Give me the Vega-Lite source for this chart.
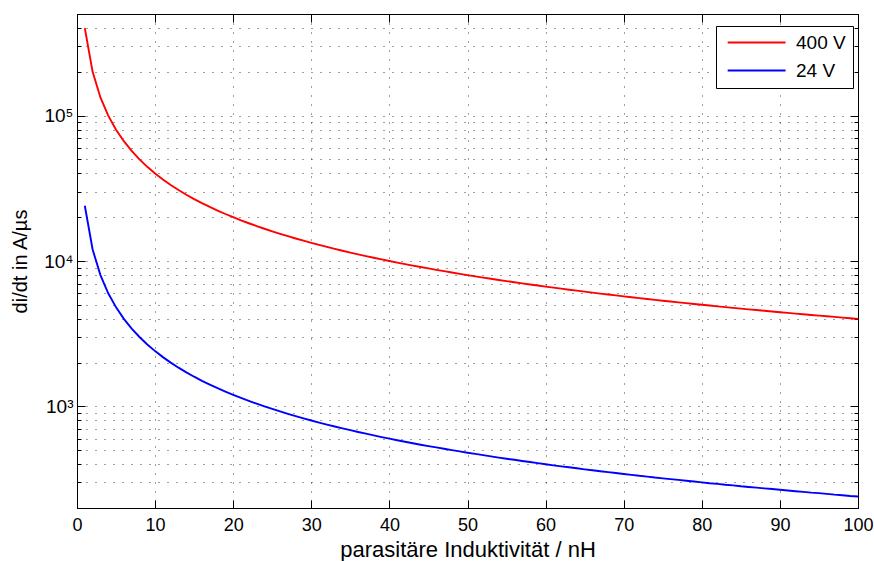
{
  "$schema": "https://vega.github.io/schema/vega-lite/v6.json",
  "width": 781,
  "height": 494,
  "autosize": {"type": "none"},
  "padding": {"left": 77, "top": 14, "right": 16, "bottom": 53},
  "background": "white",
  "config": {
    "view": {"stroke": "black", "strokeWidth": 1},
    "font": "Liberation Sans, Arial, Helvetica, sans-serif",
    "axis": {
      "domainColor": "black",
      "domainWidth": 1,
      "tickColor": "black",
      "tickWidth": 1,
      "labelColor": "black",
      "labelFont": "Liberation Sans, Arial, Helvetica, sans-serif",
      "labelFontSize": 18,
      "titleFont": "Liberation Sans, Arial, Helvetica, sans-serif",
      "titleFontSize": 22,
      "titleFontWeight": "normal",
      "titleColor": "black",
      "gridColor": "#111111",
      "gridWidth": 1,
      "gridDash": [1, 8],
      "gridOpacity": 0.8
    }
  },
  "data": {"values": [
    {"L":1,"s":"400 V","v":400000},{"L":2,"s":"400 V","v":200000},{"L":3,"s":"400 V","v":133333},{"L":4,"s":"400 V","v":100000},{"L":5,"s":"400 V","v":80000},
    {"L":6,"s":"400 V","v":66667},{"L":7,"s":"400 V","v":57143},{"L":8,"s":"400 V","v":50000},{"L":9,"s":"400 V","v":44444},{"L":10,"s":"400 V","v":40000},
    {"L":11,"s":"400 V","v":36364},{"L":12,"s":"400 V","v":33333},{"L":13,"s":"400 V","v":30769},{"L":14,"s":"400 V","v":28571},{"L":15,"s":"400 V","v":26667},
    {"L":16,"s":"400 V","v":25000},{"L":17,"s":"400 V","v":23529},{"L":18,"s":"400 V","v":22222},{"L":19,"s":"400 V","v":21053},{"L":20,"s":"400 V","v":20000},
    {"L":21,"s":"400 V","v":19048},{"L":22,"s":"400 V","v":18182},{"L":23,"s":"400 V","v":17391},{"L":24,"s":"400 V","v":16667},{"L":25,"s":"400 V","v":16000},
    {"L":26,"s":"400 V","v":15385},{"L":27,"s":"400 V","v":14815},{"L":28,"s":"400 V","v":14286},{"L":29,"s":"400 V","v":13793},{"L":30,"s":"400 V","v":13333},
    {"L":31,"s":"400 V","v":12903},{"L":32,"s":"400 V","v":12500},{"L":33,"s":"400 V","v":12121},{"L":34,"s":"400 V","v":11765},{"L":35,"s":"400 V","v":11429},
    {"L":36,"s":"400 V","v":11111},{"L":37,"s":"400 V","v":10811},{"L":38,"s":"400 V","v":10526},{"L":39,"s":"400 V","v":10256},{"L":40,"s":"400 V","v":10000},
    {"L":41,"s":"400 V","v":9756},{"L":42,"s":"400 V","v":9524},{"L":43,"s":"400 V","v":9302},{"L":44,"s":"400 V","v":9091},{"L":45,"s":"400 V","v":8889},
    {"L":46,"s":"400 V","v":8696},{"L":47,"s":"400 V","v":8511},{"L":48,"s":"400 V","v":8333},{"L":49,"s":"400 V","v":8163},{"L":50,"s":"400 V","v":8000},
    {"L":51,"s":"400 V","v":7843},{"L":52,"s":"400 V","v":7692},{"L":53,"s":"400 V","v":7547},{"L":54,"s":"400 V","v":7407},{"L":55,"s":"400 V","v":7273},
    {"L":56,"s":"400 V","v":7143},{"L":57,"s":"400 V","v":7018},{"L":58,"s":"400 V","v":6897},{"L":59,"s":"400 V","v":6780},{"L":60,"s":"400 V","v":6667},
    {"L":61,"s":"400 V","v":6557},{"L":62,"s":"400 V","v":6452},{"L":63,"s":"400 V","v":6349},{"L":64,"s":"400 V","v":6250},{"L":65,"s":"400 V","v":6154},
    {"L":66,"s":"400 V","v":6061},{"L":67,"s":"400 V","v":5970},{"L":68,"s":"400 V","v":5882},{"L":69,"s":"400 V","v":5797},{"L":70,"s":"400 V","v":5714},
    {"L":71,"s":"400 V","v":5634},{"L":72,"s":"400 V","v":5556},{"L":73,"s":"400 V","v":5479},{"L":74,"s":"400 V","v":5405},{"L":75,"s":"400 V","v":5333},
    {"L":76,"s":"400 V","v":5263},{"L":77,"s":"400 V","v":5195},{"L":78,"s":"400 V","v":5128},{"L":79,"s":"400 V","v":5063},{"L":80,"s":"400 V","v":5000},
    {"L":81,"s":"400 V","v":4938},{"L":82,"s":"400 V","v":4878},{"L":83,"s":"400 V","v":4819},{"L":84,"s":"400 V","v":4762},{"L":85,"s":"400 V","v":4706},
    {"L":86,"s":"400 V","v":4651},{"L":87,"s":"400 V","v":4598},{"L":88,"s":"400 V","v":4545},{"L":89,"s":"400 V","v":4494},{"L":90,"s":"400 V","v":4444},
    {"L":91,"s":"400 V","v":4396},{"L":92,"s":"400 V","v":4348},{"L":93,"s":"400 V","v":4301},{"L":94,"s":"400 V","v":4255},{"L":95,"s":"400 V","v":4211},
    {"L":96,"s":"400 V","v":4167},{"L":97,"s":"400 V","v":4124},{"L":98,"s":"400 V","v":4082},{"L":99,"s":"400 V","v":4040},{"L":100,"s":"400 V","v":4000},
    {"L":1,"s":"24 V","v":24000},{"L":2,"s":"24 V","v":12000},{"L":3,"s":"24 V","v":8000},{"L":4,"s":"24 V","v":6000},{"L":5,"s":"24 V","v":4800},
    {"L":6,"s":"24 V","v":4000},{"L":7,"s":"24 V","v":3429},{"L":8,"s":"24 V","v":3000},{"L":9,"s":"24 V","v":2667},{"L":10,"s":"24 V","v":2400},
    {"L":11,"s":"24 V","v":2182},{"L":12,"s":"24 V","v":2000},{"L":13,"s":"24 V","v":1846},{"L":14,"s":"24 V","v":1714},{"L":15,"s":"24 V","v":1600},
    {"L":16,"s":"24 V","v":1500},{"L":17,"s":"24 V","v":1412},{"L":18,"s":"24 V","v":1333},{"L":19,"s":"24 V","v":1263},{"L":20,"s":"24 V","v":1200},
    {"L":21,"s":"24 V","v":1143},{"L":22,"s":"24 V","v":1091},{"L":23,"s":"24 V","v":1043},{"L":24,"s":"24 V","v":1000},{"L":25,"s":"24 V","v":960},
    {"L":26,"s":"24 V","v":923},{"L":27,"s":"24 V","v":889},{"L":28,"s":"24 V","v":857},{"L":29,"s":"24 V","v":828},{"L":30,"s":"24 V","v":800},
    {"L":31,"s":"24 V","v":774},{"L":32,"s":"24 V","v":750},{"L":33,"s":"24 V","v":727},{"L":34,"s":"24 V","v":706},{"L":35,"s":"24 V","v":686},
    {"L":36,"s":"24 V","v":667},{"L":37,"s":"24 V","v":649},{"L":38,"s":"24 V","v":632},{"L":39,"s":"24 V","v":615},{"L":40,"s":"24 V","v":600},
    {"L":41,"s":"24 V","v":585},{"L":42,"s":"24 V","v":571},{"L":43,"s":"24 V","v":558},{"L":44,"s":"24 V","v":545},{"L":45,"s":"24 V","v":533},
    {"L":46,"s":"24 V","v":522},{"L":47,"s":"24 V","v":511},{"L":48,"s":"24 V","v":500},{"L":49,"s":"24 V","v":490},{"L":50,"s":"24 V","v":480},
    {"L":51,"s":"24 V","v":471},{"L":52,"s":"24 V","v":462},{"L":53,"s":"24 V","v":453},{"L":54,"s":"24 V","v":444},{"L":55,"s":"24 V","v":436},
    {"L":56,"s":"24 V","v":429},{"L":57,"s":"24 V","v":421},{"L":58,"s":"24 V","v":414},{"L":59,"s":"24 V","v":407},{"L":60,"s":"24 V","v":400},
    {"L":61,"s":"24 V","v":393},{"L":62,"s":"24 V","v":387},{"L":63,"s":"24 V","v":381},{"L":64,"s":"24 V","v":375},{"L":65,"s":"24 V","v":369},
    {"L":66,"s":"24 V","v":364},{"L":67,"s":"24 V","v":358},{"L":68,"s":"24 V","v":353},{"L":69,"s":"24 V","v":348},{"L":70,"s":"24 V","v":343},
    {"L":71,"s":"24 V","v":338},{"L":72,"s":"24 V","v":333},{"L":73,"s":"24 V","v":329},{"L":74,"s":"24 V","v":324},{"L":75,"s":"24 V","v":320},
    {"L":76,"s":"24 V","v":316},{"L":77,"s":"24 V","v":312},{"L":78,"s":"24 V","v":308},{"L":79,"s":"24 V","v":304},{"L":80,"s":"24 V","v":300},
    {"L":81,"s":"24 V","v":296},{"L":82,"s":"24 V","v":293},{"L":83,"s":"24 V","v":289},{"L":84,"s":"24 V","v":286},{"L":85,"s":"24 V","v":282},
    {"L":86,"s":"24 V","v":279},{"L":87,"s":"24 V","v":276},{"L":88,"s":"24 V","v":273},{"L":89,"s":"24 V","v":270},{"L":90,"s":"24 V","v":267},
    {"L":91,"s":"24 V","v":264},{"L":92,"s":"24 V","v":261},{"L":93,"s":"24 V","v":258},{"L":94,"s":"24 V","v":255},{"L":95,"s":"24 V","v":253},
    {"L":96,"s":"24 V","v":250},{"L":97,"s":"24 V","v":247},{"L":98,"s":"24 V","v":245},{"L":99,"s":"24 V","v":242},{"L":100,"s":"24 V","v":240}
  ]},
  "layer": [
    {
      "mark": {"type": "line", "strokeWidth": 1.9, "clip": true},
      "encoding": {
        "x": {
          "field": "L", "type": "quantitative",
          "scale": {"domain": [0, 100], "nice": false, "zero": false},
          "axis": {
            "orient": "bottom",
            "title": "parasitäre Induktivität / nH",
            "values": [0,10,20,30,40,50,60,70,80,90,100],
            "format": "d",
            "grid": true,
            "tickSize": -8,
            "labelPadding": 16,
            "titlePadding": 5,
            "labelFlush": false
          }
        },
        "y": {
          "field": "v", "type": "quantitative",
          "scale": {"type": "log", "domain": [200, 500000], "nice": false},
          "axis": {
            "orient": "left",
            "title": "di/dt in A/µs",
            "titleFontSize": 20,
            "values": [200,300,400,500,600,700,800,900,1000,2000,3000,4000,5000,6000,7000,8000,9000,10000,20000,30000,40000,50000,60000,70000,80000,90000,100000,200000,300000,400000,500000],
            "labelExpr": "datum.value == 1000 ? '10³' : datum.value == 10000 ? '10⁴' : datum.value == 100000 ? '10⁵' : ''",
            "grid": true,
            "tickSize": {"condition": {"test": "indexof([1000,10000,100000], datum.value) >= 0", "value": -8}, "value": -4},
            "labelPadding": 12,
            "titlePadding": 13,
            "labelFontSize": 19
          }
        },
        "color": {
          "field": "s", "type": "nominal",
          "scale": {"domain": ["400 V", "24 V"], "range": ["#ff0000", "#0000ff"]},
          "legend": {
            "orient": "none",
            "legendX": 639,
            "legendY": 12,
            "title": null,
            "fillColor": "white",
            "strokeColor": "black",
            "padding": 7,
            "symbolType": "M-1,0H11",
            "symbolSize": 93,
            "symbolStrokeWidth": 2,
            "symbolFillColor": "transparent",
            "labelFontSize": 19,
            "labelColor": "black",
            "labelOffset": 54,
            "rowPadding": 8
          }
        }
      }
    },
    {
      "mark": {"type": "line", "opacity": 0},
      "encoding": {
        "x": {
          "field": "L", "type": "quantitative",
          "axis": {
            "orient": "top",
            "title": null,
            "labels": false,
            "values": [0,10,20,30,40,50,60,70,80,90,100],
            "grid": false,
            "tickSize": -8
          }
        },
        "y": {
          "field": "v", "type": "quantitative",
          "axis": {
            "orient": "right",
            "title": null,
            "labels": false,
            "values": [200,300,400,500,600,700,800,900,1000,2000,3000,4000,5000,6000,7000,8000,9000,10000,20000,30000,40000,50000,60000,70000,80000,90000,100000,200000,300000,400000,500000],
            "grid": false,
            "tickSize": {"condition": {"test": "indexof([1000,10000,100000], datum.value) >= 0", "value": -8}, "value": -4}
          }
        },
        "detail": {"field": "s", "type": "nominal"}
      }
    }
  ],
  "resolve": {"axis": {"x": "independent", "y": "independent"}}
}
